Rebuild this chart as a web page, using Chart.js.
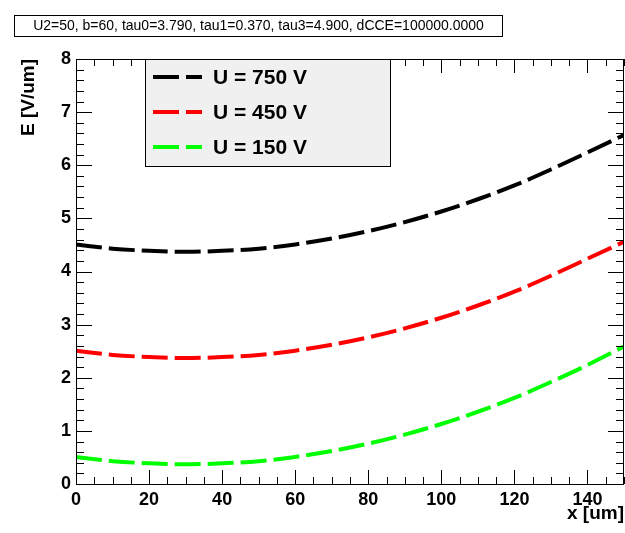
<!DOCTYPE html>
<html>
<head>
<meta charset="utf-8">
<script src="https://cdn.jsdelivr.net/npm/chart.js@4/dist/chart.umd.min.js"></script>
<style>
  html, body { margin: 0; padding: 0; background: #fff; }
</style>
</head>
<body>
<canvas id="c" width="625" height="533"></canvas>
<script>
// Depth across the sensor, in um
const positions = [0, 10, 20, 30, 40, 50, 60, 70, 80, 90, 100, 110, 120, 130, 140, 150];

// Electric field E [V/um] for each bias voltage
const fieldU750 = [4.51, 4.43, 4.39, 4.37, 4.39, 4.43, 4.51, 4.62, 4.76, 4.93, 5.13, 5.36, 5.62, 5.92, 6.24, 6.57];
const fieldU450 = [2.51, 2.43, 2.39, 2.37, 2.39, 2.43, 2.51, 2.62, 2.76, 2.93, 3.13, 3.36, 3.62, 3.92, 4.24, 4.56];
const fieldU150 = [0.51, 0.43, 0.39, 0.37, 0.39, 0.43, 0.51, 0.62, 0.76, 0.93, 1.13, 1.36, 1.62, 1.92, 2.24, 2.59];

const seriesLabels = ['U = 750 V', 'U = 450 V', 'U = 150 V'];
const seriesColors = ['#000000', '#ff0000', '#00ff00'];

const xTicks = [0, 20, 40, 60, 80, 100, 120, 140];
const yTicks = [0, 1, 2, 3, 4, 5, 6, 7, 8];

const paramText = 'U2=50, b=60, tau0=3.790, tau1=0.370, tau3=4.900, dCCE=100000.0000';

const FONT = '"Liberation Sans", Arial, Helvetica, sans-serif';
const DASH = [26, 7];

function toPoints(values) {
  return values.map((v, i) => ({ x: positions[i], y: v }));
}

// Frame, inward tick marks on all four sides, parameter box and legend
const decorations = {
  id: 'decorations',
  afterDraw(chart) {
    const ctx = chart.ctx;
    const a = chart.chartArea;
    const xs = chart.scales.x;
    const ys = chart.scales.y;
    ctx.save();
    ctx.strokeStyle = '#000';
    ctx.lineWidth = 1;

    // frame
    ctx.strokeRect(Math.round(a.left) + 0.5, Math.round(a.top) + 0.5,
                   Math.round(a.right - a.left) - 1, Math.round(a.bottom - a.top));

    ctx.beginPath();
    // x ticks every 5, majors every 20
    for (let v = 0; v <= 150; v += 5) {
      const px = Math.round(xs.getPixelForValue(v)) + 0.5;
      const len = (v % 20 === 0) ? 14 : 7;
      ctx.moveTo(px, a.bottom); ctx.lineTo(px, a.bottom - len);
      ctx.moveTo(px, a.top); ctx.lineTo(px, a.top + len);
    }
    // y ticks every 0.2, majors every 1
    for (let k = 0; k <= 40; k++) {
      const v = k * 0.2;
      const py = Math.round(ys.getPixelForValue(v)) + 0.5;
      const len = (k % 5 === 0) ? 16 : 8;
      ctx.moveTo(a.left, py); ctx.lineTo(a.left + len, py);
      ctx.moveTo(a.right, py); ctx.lineTo(a.right - len, py);
    }
    ctx.stroke();

    // parameter box
    ctx.fillStyle = '#fff';
    ctx.fillRect(14.5, 15.5, 488, 21);
    ctx.strokeRect(14.5, 15.5, 488, 21);
    ctx.fillStyle = '#000';
    ctx.font = '14px ' + FONT;
    ctx.textAlign = 'center';
    ctx.textBaseline = 'middle';
    ctx.fillText(paramText, 258.5, 26.5);

    // legend
    const lx = 145.5, ly = Math.round(a.top) + 0.5, lw = 245, lh = 107;
    ctx.fillStyle = '#f0f0f0';
    ctx.fillRect(lx, ly, lw, lh);
    ctx.strokeStyle = '#000';
    ctx.lineWidth = 1;
    ctx.strokeRect(lx, ly, lw, lh);
    const rows = [77, 112, 147];
    chart.data.datasets.forEach((ds, i) => {
      ctx.save();
      ctx.strokeStyle = ds.borderColor;
      ctx.lineWidth = 4;
      ctx.setLineDash(DASH);
      ctx.beginPath();
      ctx.moveTo(153, rows[i]);
      ctx.lineTo(202, rows[i]);
      ctx.stroke();
      ctx.restore();
      ctx.fillStyle = '#000';
      ctx.font = 'bold 21px ' + FONT;
      ctx.textAlign = 'left';
      ctx.textBaseline = 'middle';
      ctx.fillText(ds.label, 213, rows[i] + 1);
    });
    ctx.restore();
  }
};

new Chart(document.getElementById('c'), {
  type: 'line',
  data: {
    datasets: [fieldU750, fieldU450, fieldU150].map((vals, i) => ({
      label: seriesLabels[i],
      data: toPoints(vals),
      borderColor: seriesColors[i],
      backgroundColor: seriesColors[i],
      borderWidth: 4,
      borderDash: DASH,
      pointRadius: 0,
      cubicInterpolationMode: 'monotone',
      fill: false
    }))
  },
  options: {
    responsive: false,
    animation: false,
    devicePixelRatio: 1,
    layout: { padding: { top: 59, right: 1, left: 0, bottom: 0 } },
    plugins: {
      legend: { display: false },
      tooltip: { enabled: false }
    },
    scales: {
      x: {
        type: 'linear',
        min: 0,
        max: 150,
        afterBuildTicks(s) { s.ticks = xTicks.map(v => ({ value: v })); },
        afterFit(s) { s.height = 49; },
        grid: { display: false, drawTicks: false },
        border: { display: false },
        ticks: {
          color: '#000',
          padding: 5,
          maxRotation: 0,
          autoSkip: false,
          font: { family: FONT, size: 18, weight: 'bold' }
        },
        title: {
          display: true,
          text: 'x [um]',
          align: 'end',
          color: '#000',
          padding: { top: 0, bottom: 8 },
          font: { family: FONT, size: 19, weight: 'bold' }
        }
      },
      y: {
        type: 'linear',
        min: 0,
        max: 8,
        afterBuildTicks(s) { s.ticks = yTicks.map(v => ({ value: v })); },
        afterFit(s) { s.width = 76; },
        grid: { display: false, drawTicks: false },
        border: { display: false },
        ticks: {
          color: '#000',
          padding: 5,
          autoSkip: false,
          font: { family: FONT, size: 18, weight: 'bold' }
        },
        title: {
          display: true,
          text: 'E [V/um]',
          align: 'end',
          color: '#000',
          padding: { top: 17, bottom: 0 },
          font: { family: FONT, size: 19, weight: 'bold' }
        }
      }
    }
  },
  plugins: [decorations]
});
</script>
</body>
</html>
